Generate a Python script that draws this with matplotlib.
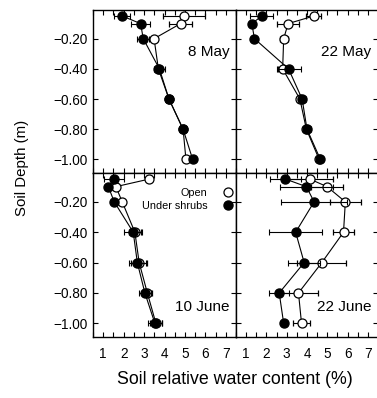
import numpy as np
import matplotlib
matplotlib.use("Agg")
import matplotlib.pyplot as plt
from matplotlib.lines import Line2D
from matplotlib.ticker import MultipleLocator, FixedLocator

plt.rcParams['font.family'] = ['Liberation Sans', 'DejaVu Sans']

# sampling depths (m)
depth = [-0.05, -0.10, -0.20, -0.40, -0.60, -0.80, -1.00]

# soil relative water content (%) with error bars
may8_open = [4.96, 4.79, 3.49, 3.70, 4.22, 4.91, 5.05]
may8_open_err = [1.04, 0.55, 0.15, 0.15, 0.10, 0.10, 0.15]
may8_shrub = [1.93, 2.83, 2.96, 3.75, 4.22, 4.91, 5.38]
may8_shrub_err = [0.38, 0.45, 0.30, 0.25, 0.15, 0.15, 0.10]

may22_open = [4.33, 3.07, 2.85, 2.80, 3.65, 3.97, 4.60]
may22_open_err = [0.37, 0.55, 0.20, 0.25, 0.15, 0.15, 0.10]
may22_shrub = [1.77, 1.28, 1.41, 3.09, 3.76, 4.00, 4.66]
may22_shrub_err = [0.57, 0.0, 0.0, 0.59, 0.20, 0.20, 0.15]

jun10_open = [3.25, 1.62, 1.93, 2.55, 2.76, 3.16, 3.58]
jun10_open_err = [0.0, 0.10, 0.10, 0.30, 0.40, 0.25, 0.30]
jun10_shrub = [1.54, 1.25, 1.54, 2.47, 2.67, 3.04, 3.53]
jun10_shrub_err = [0.50, 0.10, 0.10, 0.45, 0.40, 0.30, 0.35]

jun22_open = [4.14, 4.99, 5.89, 5.80, 4.73, 3.58, 3.73]
jun22_open_err = [1.15, 0.80, 0.78, 0.53, 1.20, 0.94, 0.43]
jun22_shrub = [2.94, 3.97, 4.35, 3.44, 3.86, 2.63, 2.85]
jun22_shrub_err = [0.75, 1.30, 1.63, 1.30, 0.78, 0.50, 0.0]

panel_titles = ["8 May", "22 May", "10 June", "22 June"]
x_ticks = [1, 2, 3, 4, 5, 6, 7]
y_ticks = [-0.2, -0.4, -0.6, -0.8, -1.0]

panels = [
    (may8_open, may8_open_err, may8_shrub, may8_shrub_err),
    (may22_open, may22_open_err, may22_shrub, may22_shrub_err),
    (jun10_open, jun10_open_err, jun10_shrub, jun10_shrub_err),
    (jun22_open, jun22_open_err, jun22_shrub, jun22_shrub_err),
]

fig = plt.figure(figsize=(3.77, 3.98), dpi=100)

x0, xm, x1 = 93 / 377, 236 / 377, 378 / 377
y1, ym, y0 = 1 - 10 / 398, 1 - 173 / 398, 1 - 337 / 398
rects = [
    [x0, ym, xm - x0, y1 - ym],
    [xm, ym, x1 - xm, y1 - ym],
    [x0, y0, xm - x0, ym - y0],
    [xm, y0, x1 - xm, ym - y0],
]

for i, (rect, data, title) in enumerate(zip(rects, panels, panel_titles)):
    ax = fig.add_axes(rect)
    op, op_e, sh, sh_e = data
    ax.errorbar(op, depth, xerr=op_e, color='black', lw=0.8, elinewidth=0.8,
                capsize=2.4, capthick=0.8, marker='o', ms=6.5, mfc='white',
                mec='black', mew=0.9, zorder=2)
    ax.errorbar(sh, depth, xerr=sh_e, color='black', lw=0.8, elinewidth=0.8,
                capsize=2.4, capthick=0.8, marker='o', ms=6.5, mfc='black',
                mec='black', zorder=3)
    ax.set_xlim(0.5, 7.5)
    ax.set_ylim(-1.09, -0.01)
    ax.xaxis.set_major_locator(FixedLocator(x_ticks))
    ax.xaxis.set_minor_locator(MultipleLocator(0.5))
    ax.yaxis.set_major_locator(FixedLocator(y_ticks))
    ax.tick_params(which='both', direction='in', top=True, right=True,
                   width=0.8, labelsize=9.8)
    ax.tick_params(which='major', length=3.5)
    ax.tick_params(which='minor', length=3.5)
    ax.tick_params(axis='x', pad=7.5)
    ax.tick_params(axis='y', pad=4)
    for s in ax.spines.values():
        s.set_linewidth(1.0)
    if i < 2:
        ax.set_xticklabels([])
    if i % 2 == 1:
        ax.set_yticklabels([])
    else:
        ax.set_yticklabels([f"\u2212{abs(v):.2f}" for v in y_ticks])
    ypos = 0.74 if i < 2 else 0.18
    ax.text(0.955, ypos, title, transform=ax.transAxes, ha='right',
            va='center', fontsize=11)
    if i == 2:
        handles = [
            Line2D([], [], ls='none', marker='o', ms=6.5, mfc='white', mec='black', mew=0.9),
            Line2D([], [], ls='none', marker='o', ms=6.5, mfc='black', mec='black'),
        ]
        ax.legend(handles, ["Open", "Under shrubs"], loc='upper right',
                  bbox_to_anchor=(0.98, 0.91), frameon=False, markerfirst=False,
                  fontsize=7.8, handlelength=1.0, handletextpad=1.4,
                  labelspacing=0.3, borderpad=0, borderaxespad=0)

fig.text(0.058, 1 - 168 / 398, "Soil Depth (m)", rotation=90, ha='center',
         va='center', fontsize=10.8)
fig.text(235 / 377, 1 - 380 / 398, "Soil relative water content (%)",
         ha='center', va='center', fontsize=12.8)

fig.savefig("out.png", dpi=100)
